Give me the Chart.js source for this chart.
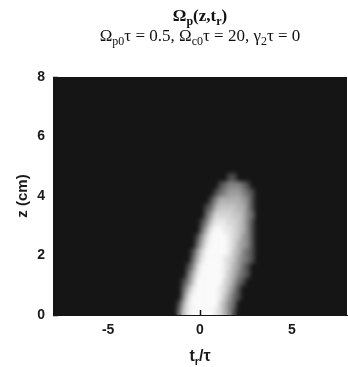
<!DOCTYPE html>
<html><head><meta charset="utf-8">
<script src="https://cdn.jsdelivr.net/npm/chart.js@4.4.1/dist/chart.umd.min.js"></script>
<style>html,body{margin:0;padding:0;background:#fff;}#wrap{width:348px;height:367px;}</style>
</head><body><div id="wrap"><canvas id="c" width="348" height="367"></canvas></div>
<script>
// cell edges of the intensity grid (t_r/tau horizontally, z in cm vertically)
const tEdges = [-1.5,-1.25,-1,-0.75,-0.5,-0.25,0,0.25,0.5,0.75,1,1.25,1.5,1.75,2,2.25,2.5,2.75,3,3.25];
const zEdges = [0,0.25,0.5,0.75,1,1.25,1.5,1.75,2,2.25,2.5,2.75,3,3.25,3.5,3.75,4,4.25,4.5,4.75];
// |Omega_p| brightness, 0 (black) .. 9 (white); one row per z cell, bottom first
const intensity = [
  [0,2,6,8,9,9,9,9,9,8,7,5,3,1,0,0,0,0,0],
  [0,1,5,8,9,9,9,9,9,9,7,5,3,2,0,0,0,0,0],
  [0,0,3,7,9,9,9,9,9,9,8,6,4,2,1,0,0,0,0],
  [0,0,2,5,8,9,9,9,9,9,8,7,5,3,1,0,0,0,0],
  [0,0,1,3,6,9,9,9,9,9,9,7,6,4,2,1,0,0,0],
  [0,0,0,2,5,8,9,9,9,9,9,8,6,5,3,2,1,0,0],
  [0,0,0,1,3,7,9,9,9,9,9,8,7,5,4,2,1,0,0],
  [0,0,0,0,2,5,8,9,9,9,9,8,7,6,4,3,2,1,0],
  [0,0,0,0,1,4,7,9,9,9,9,9,8,6,5,3,2,1,0],
  [0,0,0,0,0,2,5,8,9,9,9,9,8,7,5,4,3,1,0],
  [0,0,0,0,0,1,4,7,9,9,9,9,8,7,6,4,3,1,0],
  [0,0,0,0,0,0,2,5,8,9,9,8,8,7,6,5,3,1,0],
  [0,0,0,0,0,0,1,3,6,8,8,8,7,7,6,5,3,1,0],
  [0,0,0,0,0,0,0,2,4,7,7,7,7,6,6,5,3,2,0],
  [0,0,0,0,0,0,0,1,2,5,6,6,6,6,5,5,3,1,0],
  [0,0,0,0,0,0,0,0,1,3,5,5,5,5,5,4,3,1,0],
  [0,0,0,0,0,0,0,0,0,1,2,3,4,4,4,3,2,1,0],
  [0,0,0,0,0,0,0,0,0,0,1,2,3,3,3,2,1,0,0],
  [0,0,0,0,0,0,0,0,0,0,0,0,1,1,0,0,0,0,0]
];
const xTickValues = [-5,0,5];
const yTickValues = [0,2,4,6,8];
const xLimits = [-8,8];
const yLimits = [0,8];

const BG = 21, WHITE = 250;
function grayOf(v){ const g = Math.round(BG + (WHITE-BG)*Math.pow(v/9, 0.65)); return `rgb(${g},${g},${g})`; }

const cells = [];
intensity.forEach((row,j)=>row.forEach((v,i)=>{
  cells.push({x:[tEdges[i],tEdges[i+1]], y:(zEdges[j]+zEdges[j+1])/2, v:v});
}));

function drawRich(ctx, segs, cx, baseline, size, weight, family, subRatio){
  const subSize = Math.round(size*subRatio);
  let total = 0;
  segs.forEach(s=>{ ctx.font = `${weight} ${s.sub?subSize:size}px ${family}`; s.w = ctx.measureText(s.t).width; total += s.w; });
  let x = cx - total/2;
  ctx.textAlign = 'left'; ctx.textBaseline = 'alphabetic';
  segs.forEach(s=>{
    ctx.font = `${weight} ${s.sub?subSize:size}px ${family}`;
    ctx.fillText(s.t, x, baseline + (s.sub ? size*0.22 : 0));
    x += s.w;
  });
}

const decor = {
  id:'decor',
  beforeDatasetsDraw(chart){
    const a = chart.chartArea, ctx = chart.ctx;
    ctx.save(); ctx.fillStyle = `rgb(${BG},${BG},${BG})`;
    ctx.fillRect(a.left, a.top, a.right-a.left, a.bottom-a.top); ctx.restore();
  },
  afterDatasetsDraw(chart){
    const a = chart.chartArea, ctx = chart.ctx, xs = chart.scales.x, ys = chart.scales.y;
    // soften the cell grid into a smooth field (whole layer at once)
    const w = Math.round(a.right-a.left), h = Math.round(a.bottom-a.top);
    const tmp = document.createElement('canvas'); tmp.width = w; tmp.height = h;
    tmp.getContext('2d').drawImage(chart.canvas, Math.round(a.left), Math.round(a.top), w, h, 0, 0, w, h);
    ctx.save();
    ctx.beginPath(); ctx.rect(a.left, a.top, a.right-a.left, a.bottom-a.top); ctx.clip();
    ctx.filter = 'blur(2.2px)';
    ctx.drawImage(tmp, Math.round(a.left), Math.round(a.top));
    ctx.filter = 'none';
    ctx.restore();
    ctx.save(); ctx.strokeStyle = '#151515'; ctx.lineWidth = 1.5;
    xTickValues.forEach(v=>{ const px = Math.round(xs.getPixelForValue(v))+0.5; ctx.beginPath(); ctx.moveTo(px, a.bottom); ctx.lineTo(px, a.bottom-5); ctx.stroke(); });
    yTickValues.forEach(v=>{ const py = Math.round(ys.getPixelForValue(v))+0.5; ctx.beginPath(); ctx.moveTo(a.left, py); ctx.lineTo(a.left+5, py); ctx.stroke(); });
    ctx.restore();
  },
  afterDraw(chart){
    const a = chart.chartArea, ctx = chart.ctx;
    const cx = (a.left + a.right)/2;
    ctx.save(); ctx.fillStyle = '#111';
    drawRich(ctx, [{t:'Ω'},{t:'p',sub:true},{t:'(z,t'},{t:'r',sub:true},{t:')'}], cx, 21, 17, 'bold', '"Liberation Serif"', 0.7);
    drawRich(ctx, [{t:'Ω'},{t:'p0',sub:true},{t:'τ = 0.5, Ω'},{t:'c0',sub:true},{t:'τ = 20, γ'},{t:'2',sub:true},{t:'τ = 0'}], cx, 41, 17, 'normal', '"Liberation Serif"', 0.72);
    ctx.fillStyle = '#1a1a1a';
    drawRich(ctx, [{t:'t'},{t:'r',sub:true},{t:'/τ'}], cx, 361, 16, 'bold', '"Liberation Sans"', 0.7);
    ctx.translate(23, (a.top+a.bottom)/2); ctx.rotate(-Math.PI/2);
    ctx.font = 'bold 15px "Liberation Sans"'; ctx.textAlign='center'; ctx.textBaseline='middle';
    ctx.fillText('z (cm)', 0, 0);
    ctx.restore();
  }
};

const tickFont = {family:'"Liberation Sans"', size:14, weight:'bold'};
new Chart(document.getElementById('c'), {
  type:'bar',
  data:{datasets:[{data:cells, backgroundColor:ctx=>grayOf(ctx.raw ? ctx.raw.v : 0), borderWidth:0, barPercentage:1, categoryPercentage:1}]},
  options:{
    indexAxis:'y', responsive:false, animation:false, devicePixelRatio:1,
    layout:{padding:{left:0,right:1,top:77,bottom:0}},
    plugins:{legend:{display:false}, tooltip:{enabled:false}, title:{display:false}},
    scales:{
      x:{type:'linear', min:xLimits[0], max:xLimits[1],
         grid:{display:false, drawTicks:false}, border:{display:true,color:'#151515',width:1},
         ticks:{padding:7, font:tickFont, color:'#1a1a1a'},
         afterBuildTicks:s=>{ s.ticks = xTickValues.map(v=>({value:v})); },
         afterFit:s=>{ s.height = 52; }},
      y:{type:'linear', min:yLimits[0], max:yLimits[1], offset:false,
         grid:{display:false, drawTicks:false}, border:{display:true,color:'#151515',width:1},
         ticks:{padding:8, font:tickFont, color:'#1a1a1a'},
         afterBuildTicks:s=>{ s.ticks = yTickValues.map(v=>({value:v})); },
         afterFit:s=>{ s.width = 53; }}
    }
  },
  plugins:[decor]
});
</script></body></html>
